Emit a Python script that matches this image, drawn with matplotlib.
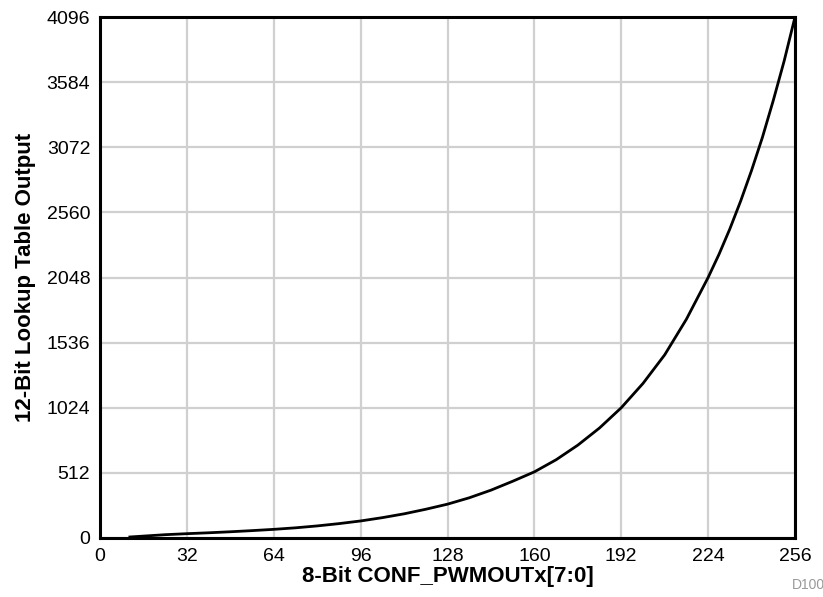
import matplotlib
matplotlib.use("Agg")
import matplotlib.pyplot as plt

# values
code = [11, 24, 32, 40, 48, 56, 64, 72, 80, 88, 96, 104, 112, 120, 128, 136, 144, 152,
        160, 168, 176, 184, 192, 200, 208, 216, 224, 228, 232, 236, 240, 244, 248, 252, 256]
lut = [8, 26, 34, 41, 49, 58, 68, 80, 95, 113, 134, 160, 190, 226, 266, 316, 376, 446,
       520, 615, 730, 865, 1024, 1215, 1440, 1720, 2048, 2230, 2430, 2650, 2890, 3150, 3440, 3750, 4096]

xticks = [0, 32, 64, 96, 128, 160, 192, 224, 256]
yticks = [0, 512, 1024, 1536, 2048, 2560, 3072, 3584, 4096]

plt.rcParams['font.family'] = ['Liberation Sans', 'DejaVu Sans']

fig = plt.figure(figsize=(8.23, 5.97), dpi=100)
ax = fig.add_axes([100/823, 1 - 538/597, 695/823, 521/597])

ax.plot(code, lut, color='black', linewidth=2, zorder=3)

ax.set_xlim(0, 256)
ax.set_ylim(0, 4096)
ax.set_xticks(xticks)
ax.set_yticks(yticks)
ax.tick_params(length=0, labelsize=14, pad=7)
ax.grid(True, color='#d0d0d0', linewidth=1.6)
ax.set_axisbelow(True)
for s in ax.spines.values():
    s.set_linewidth(2.2)

ax.set_xlabel('8-Bit CONF_PWMOUTx[7:0]', fontsize=16, fontweight='bold', labelpad=1)
ax.set_ylabel('12-Bit Lookup Table Output', fontsize=16, fontweight='bold', labelpad=8)

fig.text(792/823, 1 - 592/597, 'D100', fontsize=10, color='#999999', ha='left', va='bottom')

fig.savefig('out.png', dpi=100)
